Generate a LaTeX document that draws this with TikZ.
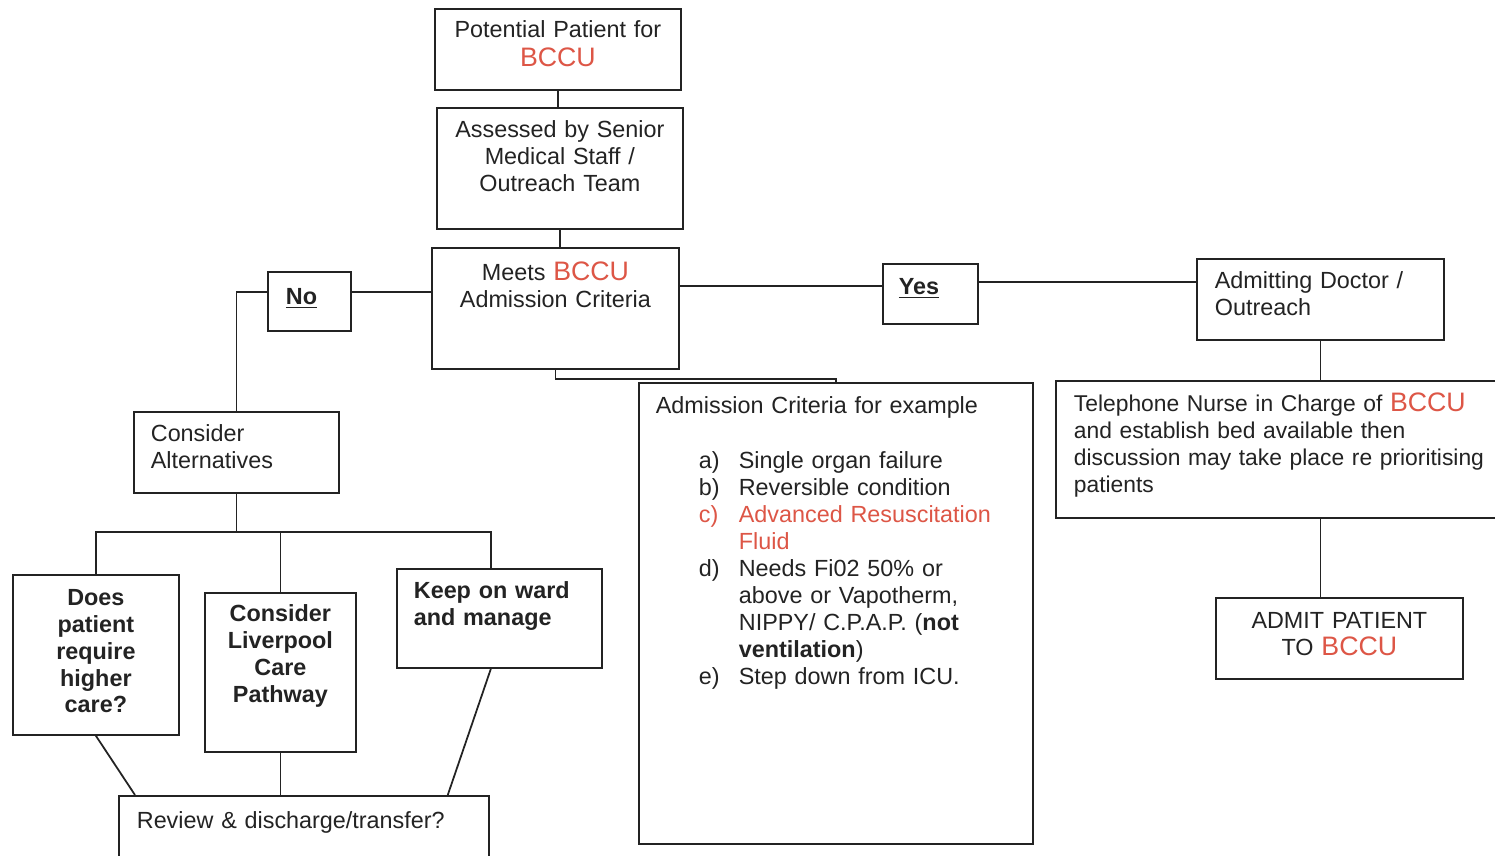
\documentclass[tikz,border=0pt]{standalone}
\usepackage{fontspec}
\setmainfont{Liberation Sans}
\usepackage{tikz}
\definecolor{bccured}{RGB}{221,86,70}
\definecolor{inkgray}{RGB}{35,35,35}
\newcommand{\bccu}{{\color{bccured}\fontsize{15.2}{15.2}\selectfont BCCU}}
\newcommand{\critem}[1]{\hspace*{8.6mm}\makebox[8mm][l]{#1}}
\newcommand{\critcont}{\hspace*{16.6mm}}
\tikzset{
block/.style={
  draw=inkgray,
  rectangle,
  line width=1pt,
  anchor=north west,
  inner ysep=0pt,
  text=inkgray,
  font=\fontsize{13.3}{15.2}\selectfont
  },
line/.style={draw=inkgray, line width=1pt}
}
\begin{document}
\begin{tikzpicture}[x=0.2mm, y=-0.2mm]
\fill[white] (0,0) rectangle (1495,856);
\useasboundingbox (0,0) rectangle (1495,856);
% central column
\node[block, inner xsep=3mm, text width=43.2mm, text height=5.8mm, text depth=10.4mm, align=center] (pot) at (434,8) {Potential Patient for\\[1pt]\bccu};
\node[block, inner xsep=3mm, text width=43.2mm, text height=6mm, text depth=18.2mm, align=center] (assess) at (436,107) {Assessed by Senior\\Medical Staff /\\Outreach Team};
\node[block, inner xsep=3mm, text width=43.4mm, text height=6.6mm, text depth=17.6mm, align=center] (meets) at (431,247) {Meets \bccu\\Admission Criteria};
\node[block, inner xsep=3.6mm, text width=9.4mm, text height=6.6mm, text depth=5.2mm, align=left] (no) at (267,271) {\textbf{\underline{No}}};
\node[block, inner xsep=3.2mm, text width=12.6mm, text height=6.2mm, text depth=5.8mm, align=left] (yes) at (882,263) {\textbf{\underline{Yes}}};
% right branch
\node[block, inner xsep=3.6mm, text width=42.2mm, text height=6mm, text depth=10.2mm, align=left] (admdoc) at (1196,258) {Admitting Doctor /\\Outreach};
\node[block, inner xsep=3.6mm, text width=90mm, text height=6.2mm, text depth=21.2mm, align=left, font=\fontsize{13}{15.3}\selectfont] (tel) at (1055,380) {Telephone Nurse in Charge of \bccu\\and establish bed available then\\discussion may take place re prioritising\\patients};
\node[block, inner xsep=3mm, text width=43.4mm, text height=6.2mm, text depth=10mm, align=center] (admit) at (1215,597) {ADMIT PATIENT\\TO \bccu};
\node[block, inner xsep=3.4mm, text width=72mm, text height=6.2mm, text depth=86mm, align=left, font=\fontsize{13.3}{15.4}\selectfont] (criteria) at (638,382) {Admission Criteria for example\\[15.4pt]
\critem{a)}Single organ failure\\
\critem{b)}Reversible condition\\
{\color{bccured}\critem{c)}Advanced Resuscitation}\\
{\color{bccured}\critcont Fluid}\\
\critem{d)}Needs Fi02 50\% or\\
\critcont above or Vapotherm,\\
\critcont NIPPY/ C.P.A.P. (\textbf{not}\\
\critcont\textbf{ventilation})\\
\critem{e)}Step down from ICU.};
% left branch
\node[block, inner xsep=3.4mm, text width=34.2mm, text height=6mm, text depth=10.2mm, align=left] (consalt) at (133,411) {Consider\\Alternatives};
\node[block, inner xsep=2mm, text width=29.2mm, text height=6.2mm, text depth=25.8mm, align=center, font=\fontsize{13.3}{15.2}\selectfont\bfseries] (does) at (12,574) {Does\\patient\\require\\higher\\care?};
\node[block, inner xsep=2mm, text width=26.2mm, text height=5.8mm, text depth=26mm, align=center, font=\fontsize{13.3}{15.2}\selectfont\bfseries] (liverpool) at (204,592) {Consider\\Liverpool\\Care\\Pathway};
\node[block, inner xsep=3.4mm, text width=34.2mm, text height=6mm, text depth=13.8mm, align=left, font=\fontsize{13.3}{15.2}\selectfont\bfseries] (keep) at (396,568) {Keep on ward\\and manage};
\node[block, inner xsep=3.6mm, text width=66.8mm, text height=6.6mm, text depth=6.6mm, align=left] (review) at (118,795) {Review \& discharge/transfer?};
% connectors
\draw[line] (pot.south) -- (pot.south |- assess.north);
\draw[line] (assess.south) -- (assess.south |- meets.north);
\coordinate (nojoin) at ([yshift=1.8mm]no.east);
\draw[line] (nojoin) -- (nojoin -| meets.west);
\draw[line] (nojoin -| no.west) -| (consalt.north);
\coordinate (yesin) at ([yshift=1.6mm]yes.west);
\draw[line] (meets.east |- yesin) -- (yesin);
\coordinate (yesout) at ([yshift=2.4mm]yes.east);
\draw[line] (yesout) -- (yesout -| admdoc.west);
\draw[line] (admdoc.south) -- (admdoc.south |- tel.north);
\draw[line] (admdoc.south |- tel.south) -- (admdoc.south |- admit.north);
\draw[line] (meets.south) -- ++(0,9) -| (criteria.north);
\coordinate (bus) at ([yshift=-7.6mm]consalt.south);
\coordinate (keepin) at ([xshift=-1.7mm]keep.north);
\draw[line] (consalt.south) -- (bus);
\draw[line] (does.north) |- (bus) -| (keepin);
\draw[line] (liverpool.north) -- (liverpool.north |- bus);
\draw[line] (does.south) -- ([xshift=3.4mm]review.north west);
\draw[line] (liverpool.south) -- (liverpool.south |- review.north);
\draw[line] ([xshift=-1.7mm]keep.south) -- ([xshift=-8.4mm]review.north east);
\end{tikzpicture}
\end{document}
